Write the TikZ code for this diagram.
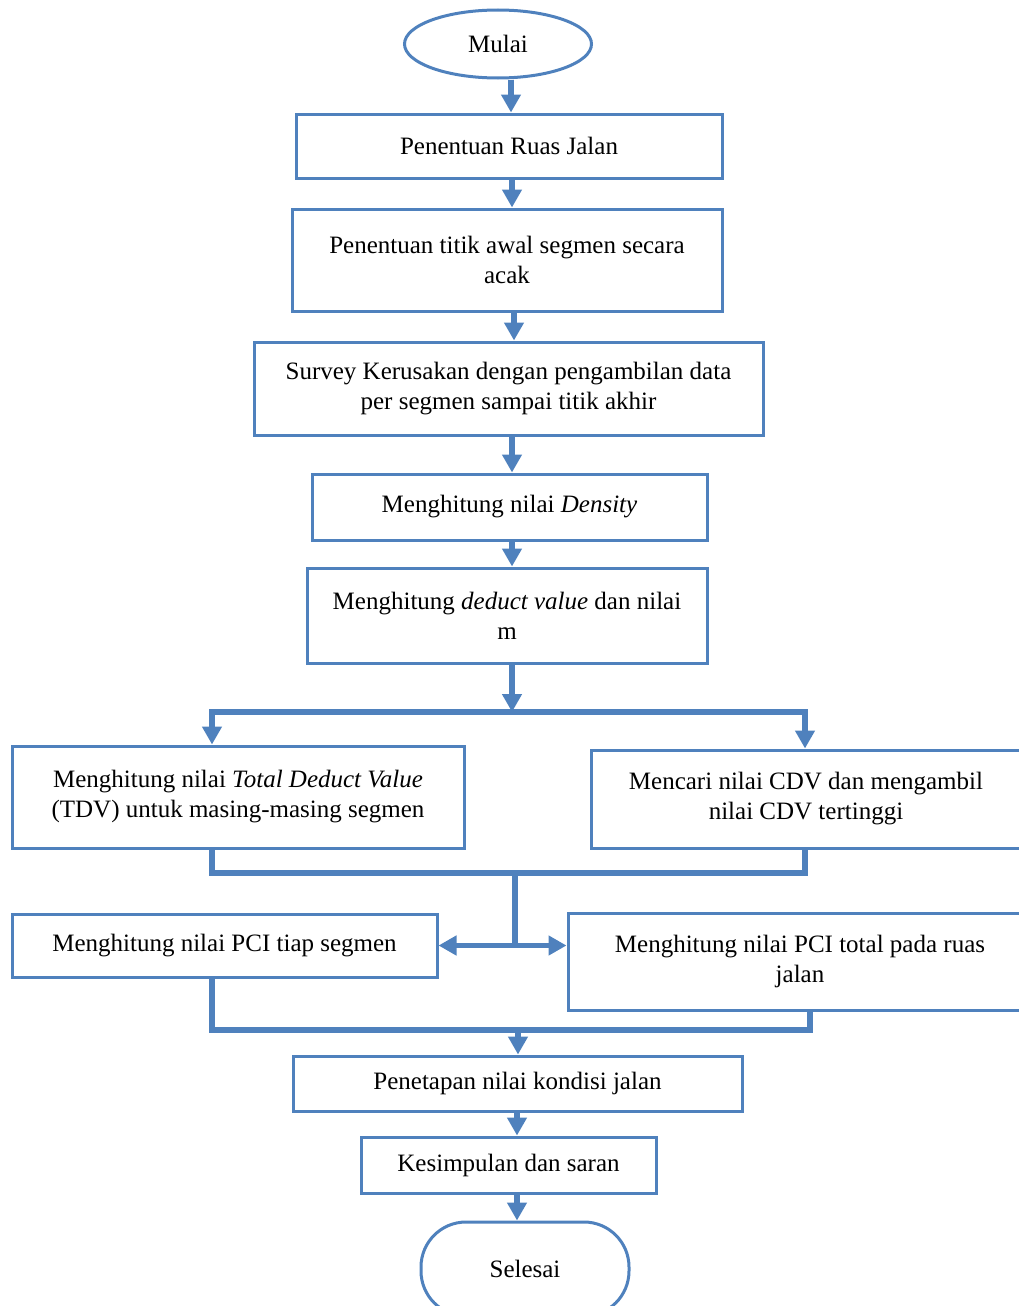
\documentclass[tikz,border=0pt]{standalone}
\usepackage{fontspec}
\setmainfont{Liberation Serif}
\usetikzlibrary{arrows.meta,shapes.geometric,calc}
\definecolor{blu}{RGB}{79,129,189}
\begin{document}
\begin{tikzpicture}[x=1pt,y=-1pt,
 box/.style={draw=blu, line width=3pt, align=center, font=\fontsize{25}{30}\selectfont, inner sep=0pt, rectangle},
 tip/.tip={Triangle[length=18pt,width=19pt]},
 arr/.style={draw=blu, line width=5.5pt, -tip},
 ln/.style={draw=blu, line width=5.5pt, line join=miter},
 dbl/.style={draw=blu, line width=5.5pt, line join=miter, tip-tip}]
\useasboundingbox (0,0) rectangle (1019,1306);

\node[box, ellipse, minimum width=187pt, minimum height=68pt] (mulai) at (498,44) {Mulai};
\node[box, minimum width=426pt, minimum height=64pt] (b1) at (509,146) {Penentuan Ruas Jalan};
\node[box, minimum width=430pt, minimum height=102pt] (b2) at (507,260) {Penentuan titik awal segmen secara\\acak};
\node[box, minimum width=509pt, minimum height=93pt] (b3) at (508.5,388.5) {Survey Kerusakan dengan pengambilan data\\per segmen sampai titik akhir};
\node[box, minimum width=395pt, minimum height=66pt] (b4) at (509.5,507) {Menghitung nilai \textit{Density}};
\node[box, minimum width=400pt, minimum height=95pt] (b5) at (507,615.5) {Menghitung \textit{deduct value} dan nilai\\m};
\node[box, minimum width=452pt, minimum height=102pt] (b6) at (238,797) {Menghitung nilai \textit{Total Deduct Value}\\(TDV) untuk masing-masing segmen};
\node[box, minimum width=430pt, minimum height=98pt] (b7) at (806,799) {Mencari nilai CDV dan mengambil\\nilai CDV tertinggi};
\node[box, minimum width=425pt, minimum height=63pt] (b8) at (224.5,945.5) {Menghitung nilai PCI tiap segmen};
\node[box, minimum width=464pt, minimum height=97pt] (b9) at (800,961.5) {Menghitung nilai PCI total pada ruas\\jalan};
\node[box, minimum width=449pt, minimum height=55pt] (b10) at (517.5,1083.5) {Penetapan nilai kondisi jalan};
\node[box, minimum width=295pt, minimum height=56pt] (b11) at (508.5,1165) {Kesimpulan dan saran};
\node[box, rounded corners=45pt, minimum width=208pt, minimum height=94pt] (selesai) at (525,1269) {Selesai};

\coordinate (c1) at (511,0);
\coordinate (c2) at (512,0);
\coordinate (c3) at (514,0);
\coordinate (c4) at (517,0);
\coordinate (sp) at (512,712);
\coordinate (spL) at (212,712);
\coordinate (spR) at (805,712);
\coordinate (m1) at (515,873);
\coordinate (m1L) at (212,873);
\coordinate (m1R) at (805,873);
\coordinate (m2) at (518,1030);
\coordinate (m2L) at (212,1030);
\coordinate (m2R) at (810,1030);

\draw[arr] (mulai.south -| c1) -- (b1.north -| c1);
\draw[arr] (b1.south -| c2) -- (b2.north -| c2);
\draw[arr] (b2.south -| c3) -- (b3.north -| c3);
\draw[arr] (b3.south -| c2) -- (b4.north -| c2);
\draw[arr] (b4.south -| c2) -- (b5.north -| c2);
\draw[arr] (b5.south -| sp) -- (sp);
\draw[dbl] (b6.north -| spL) -- (spL) -- (spR) -- (b7.north -| spR);
\draw[ln] (b6.south -| m1L) -- (m1L) -- (m1R) -- (b7.south -| m1R);
\draw[ln] (m1) -- (m1 |- b8.east);
\draw[dbl] (b8.east) -- (b8.east -| b9.west);
\draw[ln] (b8.south -| m2L) -- (m2L) -- (m2R) -- (b9.south -| m2R);
\draw[arr] (m2) -- (b10.north -| m2);
\draw[arr] (b10.south -| c4) -- (b11.north -| c4);
\draw[arr] (b11.south -| c4) -- (selesai.north -| c4);
\end{tikzpicture}
\end{document}
